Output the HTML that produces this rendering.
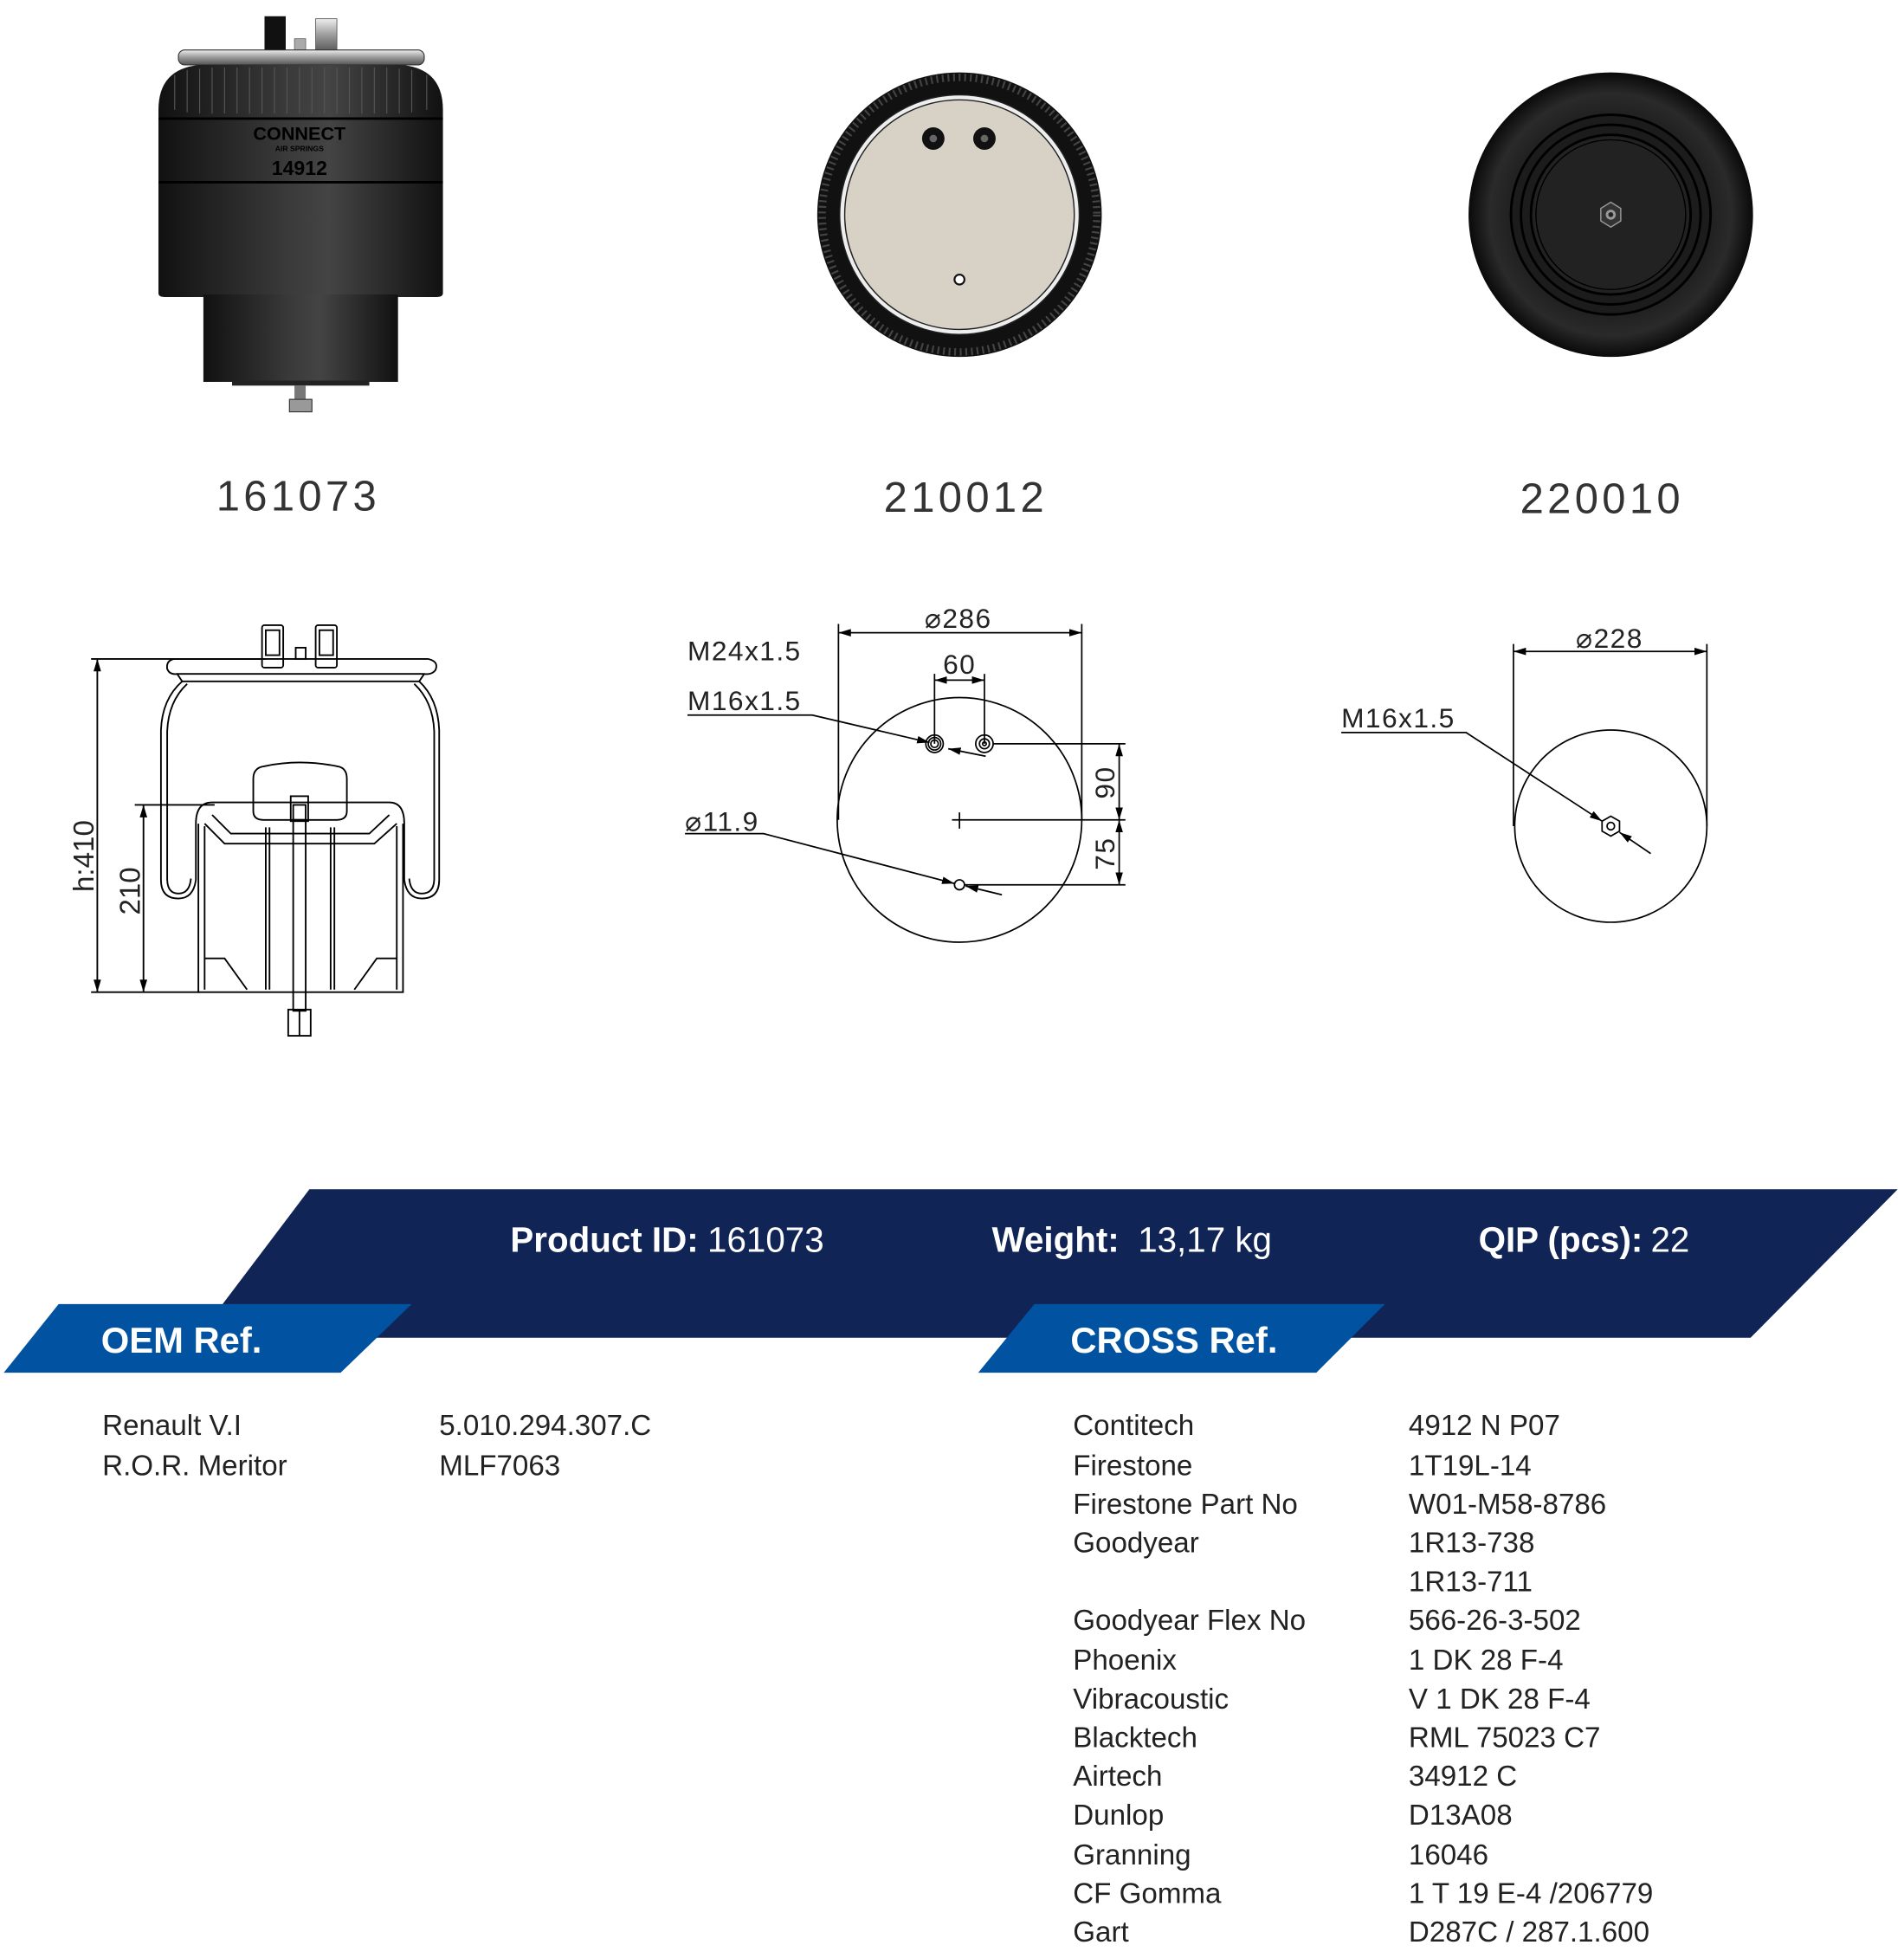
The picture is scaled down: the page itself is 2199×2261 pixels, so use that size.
<!DOCTYPE html>
<html><head><meta charset="utf-8"><style>
html,body{margin:0;padding:0;background:#fff;}
svg{display:block;}
.t{font-family:"Liberation Sans",sans-serif;}
</style></head><body>
<svg width="2199" height="2261" viewBox="0 0 1526 1569" xmlns="http://www.w3.org/2000/svg">
<defs>
<linearGradient id="body" x1="0" x2="1" y1="0" y2="0">
<stop offset="0" stop-color="#111"/><stop offset="0.45" stop-color="#3a3a3a"/><stop offset="0.6" stop-color="#444"/><stop offset="1" stop-color="#111"/>
</linearGradient>
<linearGradient id="silver" x1="0" x2="0" y1="0" y2="1">
<stop offset="0" stop-color="#eee"/><stop offset="0.5" stop-color="#999"/><stop offset="1" stop-color="#555"/>
</linearGradient>
<radialGradient id="tire" cx="0.5" cy="0.5" r="0.5">
<stop offset="0.6" stop-color="#1a1a1a"/><stop offset="0.85" stop-color="#2a2a2a"/><stop offset="1" stop-color="#0a0a0a"/>
</radialGradient>
<marker id="ar" viewBox="0 0 10 6" refX="10" refY="3" markerWidth="10" markerHeight="6" orient="auto-start-reverse" markerUnits="userSpaceOnUse"><path d="M0,0 L10,3 L0,6z" fill="#000"/></marker>
</defs>

<!-- Photo 1: cylinder -->
<rect x="212" y="13" width="17" height="29" fill="#111"/>
<rect x="253" y="15" width="17" height="27" fill="url(#silver)" stroke="#555" stroke-width="0.6"/>
<rect x="236" y="31" width="9" height="11" fill="#aaa" stroke="#555" stroke-width="0.5"/>
<rect x="143" y="40" width="197" height="12" rx="5" fill="url(#silver)" stroke="#333" stroke-width="0.8"/>
<path d="M127,235 L127,88 Q127,55 160,52 L322,52 Q355,55 355,88 L355,235 Q355,238 350,238 L132,238 Q127,238 127,235z" fill="url(#body)"/>
<g stroke="#555" stroke-width="0.8">
<path d="M150,56v34M160,55v36M170,54v37M180,54v37M190,54v37M200,54v37M210,54v37M220,54v37M230,54v37M240,54v37M250,54v37M260,54v37M270,54v37M280,54v37M290,54v37M300,54v37M310,54v37M320,55v36M330,56v34M140,60v28M342,60v28"/>
</g>
<line x1="127" y1="95" x2="355" y2="95" stroke="#000" stroke-width="2"/>
<line x1="127" y1="146" x2="355" y2="146" stroke="#000" stroke-width="2"/>
<text x="240" y="112" text-anchor="middle" class="t" font-size="15" font-weight="bold" fill="#000">CONNECT</text>
<text x="240" y="121" text-anchor="middle" class="t" font-size="6" font-weight="bold" fill="#000">AIR SPRINGS</text>
<text x="240" y="140" text-anchor="middle" class="t" font-size="16" font-weight="bold" fill="#000">14912</text>
<rect x="163" y="236" width="156" height="70" fill="url(#body)"/>
<rect x="186" y="305" width="110" height="4" fill="#222"/>
<rect x="236" y="309" width="9" height="12" fill="#777"/>
<rect x="232" y="320" width="18" height="10" fill="#999" stroke="#333" stroke-width="0.8"/>

<!-- Photo 2 -->
<circle cx="769" cy="172" r="114" fill="#111"/>
<circle cx="769" cy="172" r="110" fill="none" stroke="#444" stroke-width="6" stroke-dasharray="1.5 3"/>
<circle cx="769" cy="172" r="96" fill="#eee" stroke="#222" stroke-width="1"/>
<circle cx="769" cy="172" r="92" fill="#d8d1c6" stroke="#222" stroke-width="1"/>
<circle cx="748" cy="111" r="9" fill="#111"/><circle cx="748" cy="111" r="3" fill="#666"/>
<circle cx="789" cy="111" r="9" fill="#111"/><circle cx="789" cy="111" r="3" fill="#666"/>
<circle cx="769" cy="224" r="4" fill="#fff" stroke="#111" stroke-width="1.5"/>

<!-- Photo 3 -->
<circle cx="1291" cy="172" r="114" fill="url(#tire)"/>
<circle cx="1291" cy="172" r="80" fill="#1c1c1c" stroke="#000" stroke-width="2"/>
<circle cx="1291" cy="172" r="72" fill="none" stroke="#000" stroke-width="2"/>
<circle cx="1291" cy="172" r="64" fill="#222" stroke="#000" stroke-width="2"/>
<circle cx="1291" cy="172" r="60" fill="none" stroke="#000" stroke-width="1"/>
<polygon points="1291,162 1299,167 1299,177 1291,182 1283,177 1283,167" fill="#333" stroke="#999" stroke-width="1"/>
<circle cx="1291" cy="172" r="4" fill="#999"/><circle cx="1291" cy="172" r="2" fill="#222"/>

<!-- Labels -->
<g class="t" font-size="34" fill="#333" text-anchor="middle" letter-spacing="3">
<text x="239" y="409">161073</text>
<text x="774" y="410">210012</text>
<text x="1284" y="411">220010</text>
</g>

<!-- Drawing 1 -->
<g fill="none" stroke="#000" stroke-width="1.3">
<line x1="73" y1="528" x2="213" y2="528"/>
<line x1="73" y1="795" x2="160" y2="795"/>
<line x1="78" y1="528" x2="78" y2="795" marker-start="url(#ar)" marker-end="url(#ar)"/>
<line x1="108" y1="645" x2="172" y2="645"/>
<line x1="115" y1="645" x2="115" y2="795" marker-start="url(#ar)" marker-end="url(#ar)"/>
<!-- top plate -->
<path d="M140,528 L343,528 Q352,530 349,537 Q346,541 340,540 L142,540 Q136,541 134,536 Q133,529 140,528z"/>
<path d="M142,540 L146,546 L336,546 L340,540"/>
<!-- bellows -->
<path d="M146,546 Q130,560 129,585 L129,705 Q129,720 143,720 Q155,720 157,705 L157,660 Q157,643 170,643 L312,643 Q324,643 324,660 L324,705 Q326,720 338,720 Q352,720 352,705 L352,585 Q351,560 336,546"/>
<path d="M150,548 Q135,562 134,586 L134,704 Q134,716 143,716 Q152,716 153,704"/>
<path d="M332,548 Q347,562 348,586 L348,704 Q348,716 338,716 Q329,716 328,704"/>
<!-- piston -->
<path d="M159,660 L159,795 L323,795 L323,660"/>
<path d="M164,662 L164,793 M318,662 L318,793"/>
<path d="M164,660 L180,676 L300,676 L318,660"/>
<path d="M170,653 L185,668 L296,668 L312,653"/>
<path d="M164,768 L180,768 L198,793 M318,768 L302,768 L284,793"/>
<path d="M213,663 L213,793 M216,663 L216,793 M265,663 L265,793 M268,663 L268,793"/>
<!-- cap -->
<path d="M203,624 Q203,615 212,614 Q240,608 270,614 Q278,615 278,624 L278,650 Q278,657 270,657 L211,657 Q203,657 203,650z"/>
<!-- bolt -->
<rect x="233" y="638" width="14" height="20"/>
<rect x="235" y="645" width="10" height="12"/>
<rect x="235" y="657" width="10" height="153"/>
<rect x="231" y="809" width="18" height="21"/>
<line x1="240" y1="809" x2="240" y2="830"/>
<!-- connectors -->
<rect x="210" y="501" width="17" height="34" rx="2"/>
<rect x="213" y="505" width="11" height="20"/>
<rect x="253" y="501" width="17" height="34" rx="2"/>
<rect x="256" y="505" width="11" height="20"/>
<rect x="237" y="519" width="8" height="9"/>
</g>
<g class="t" font-size="23" fill="#222" text-anchor="middle">
<text transform="translate(75,686) rotate(-90)">h:410</text>
<text transform="translate(112,714) rotate(-90)">210</text>
</g>

<!-- Drawing 2 -->
<g fill="none" stroke="#000" stroke-width="1.2">
<circle cx="769" cy="657" r="98"/>
<line x1="672" y1="500" x2="672" y2="657"/>
<line x1="867" y1="500" x2="867" y2="657"/>
<line x1="672" y1="507" x2="867" y2="507" marker-start="url(#ar)" marker-end="url(#ar)"/>
<line x1="749" y1="540" x2="749" y2="596"/>
<line x1="789" y1="540" x2="789" y2="596"/>
<line x1="749" y1="545" x2="789" y2="545" marker-start="url(#ar)" marker-end="url(#ar)"/>
<circle cx="749" cy="596" r="7"/><circle cx="749" cy="596" r="5"/><circle cx="749" cy="596" r="3"/>
<circle cx="789" cy="596" r="7"/><circle cx="789" cy="596" r="4"/><circle cx="789" cy="596" r="1.5"/>
<line x1="796" y1="596" x2="902" y2="596"/>
<line x1="763" y1="657" x2="902" y2="657"/><line x1="769" y1="651" x2="769" y2="664"/>
<circle cx="769" cy="709" r="4"/>
<line x1="773" y1="709" x2="902" y2="709"/>
<line x1="897" y1="596" x2="897" y2="657" marker-start="url(#ar)" marker-end="url(#ar)"/>
<line x1="897" y1="657" x2="897" y2="709" marker-start="url(#ar)" marker-end="url(#ar)"/>
<polyline points="551,573 651,573 745,595" marker-end="url(#ar)"/>
<line x1="790" y1="606" x2="760" y2="600" marker-end="url(#ar)"/>
<polyline points="549,668 612,668 765,708" marker-end="url(#ar)"/>
<line x1="803" y1="717" x2="774" y2="710" marker-end="url(#ar)"/>
</g>
<g class="t" font-size="22" fill="#222" letter-spacing="1">
<text x="768" y="503" text-anchor="middle">⌀286</text>
<text x="769" y="540" text-anchor="middle">60</text>
<text x="551" y="529">M24x1.5</text>
<text x="551" y="569">M16x1.5</text>
<text x="549" y="666">⌀11.9</text>
<text transform="translate(893,627) rotate(-90)" text-anchor="middle">90</text>
<text transform="translate(893,684) rotate(-90)" text-anchor="middle">75</text>
</g>

<!-- Drawing 3 -->
<g fill="none" stroke="#000" stroke-width="1.2">
<circle cx="1291" cy="662" r="77"/>
<line x1="1213" y1="516" x2="1213" y2="662"/>
<line x1="1368" y1="516" x2="1368" y2="662"/>
<line x1="1213" y1="522" x2="1368" y2="522" marker-start="url(#ar)" marker-end="url(#ar)"/>
<polygon points="1291,654 1298,658 1298,666 1291,670 1284,666 1284,658"/>
<circle cx="1291" cy="662" r="3"/>
<polyline points="1075,587 1175,587 1284,658" marker-end="url(#ar)"/>
<line x1="1323" y1="684" x2="1298" y2="667" marker-end="url(#ar)"/>
</g>
<g class="t" font-size="22" fill="#222" letter-spacing="1">
<text x="1290" y="519" text-anchor="middle">⌀228</text>
<text x="1075" y="583">M16x1.5</text>
</g>

<!-- Banner -->
<polygon points="248,953 1521,953 1403,1072 158,1072" fill="#102456"/>
<polygon points="47,1045 330,1045 273,1100 3,1100" fill="#0152a0"/>
<polygon points="829,1045 1110,1045 1055,1100 784,1100" fill="#0152a0"/>
<g class="t" fill="#fff" font-size="28">
<text x="409" y="1003" font-weight="bold">Product ID:</text>
<text x="567" y="1003">161073</text>
<text x="795" y="1003" font-weight="bold">Weight:</text>
<text x="912" y="1003">13,17 kg</text>
<text x="1185" y="1003" font-weight="bold">QIP (pcs):</text>
<text x="1323" y="1003">22</text>
<text x="81" y="1084" font-weight="bold" font-size="29">OEM Ref.</text>
<text x="858" y="1084" font-weight="bold" font-size="29">CROSS Ref.</text>
</g>

<!-- Table -->
<g class="t" fill="#222" font-size="23">
<text x="82" y="1150">Renault V.I</text><text x="352" y="1150">5.010.294.307.C</text>
<text x="82" y="1182">R.O.R. Meritor</text><text x="352" y="1182">MLF7063</text>
<text x="860" y="1150">Contitech</text><text x="1129" y="1150">4912 N P07</text>
<text x="860" y="1182">Firestone</text><text x="1129" y="1182">1T19L-14</text>
<text x="860" y="1213">Firestone Part No</text><text x="1129" y="1213">W01-M58-8786</text>
<text x="860" y="1244">Goodyear</text><text x="1129" y="1244">1R13-738</text>
<text x="1129" y="1275">1R13-711</text>
<text x="860" y="1306">Goodyear Flex No</text><text x="1129" y="1306">566-26-3-502</text>
<text x="860" y="1338">Phoenix</text><text x="1129" y="1338">1 DK 28 F-4</text>
<text x="860" y="1369">Vibracoustic</text><text x="1129" y="1369">V 1 DK 28 F-4</text>
<text x="860" y="1400">Blacktech</text><text x="1129" y="1400">RML 75023 C7</text>
<text x="860" y="1431">Airtech</text><text x="1129" y="1431">34912 C</text>
<text x="860" y="1462">Dunlop</text><text x="1129" y="1462">D13A08</text>
<text x="860" y="1494">Granning</text><text x="1129" y="1494">16046</text>
<text x="860" y="1525">CF Gomma</text><text x="1129" y="1525">1 T 19 E-4 /206779</text>
<text x="860" y="1556">Gart</text><text x="1129" y="1556">D287C / 287.1.600</text>
</g>
</svg>
</body></html>
